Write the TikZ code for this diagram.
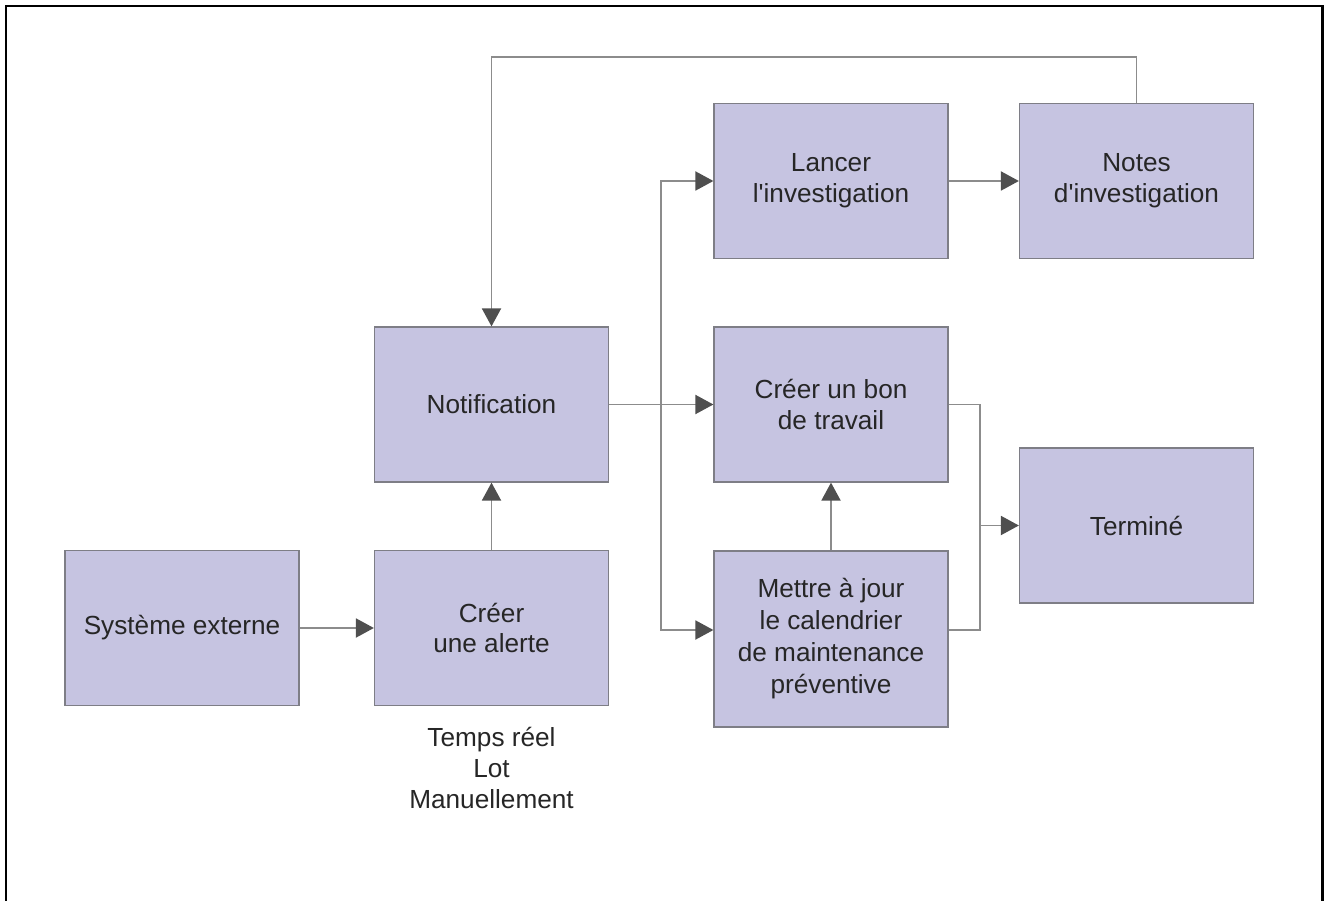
\documentclass[tikz,border=0pt]{standalone}
\usepackage{fontspec}
\setmainfont{Liberation Sans}[Ligatures=TeXOff]
\usetikzlibrary{positioning,arrows.meta,calc}

\definecolor{boxfill}{HTML}{C6C4E1}
\definecolor{boxline}{HTML}{7E7E86}
\definecolor{wire}{HTML}{8C8C8C}
\definecolor{tipgrey}{HTML}{4F4F4F}

\begin{document}
\begin{tikzpicture}[on grid, node distance=6.2cm,
	box/.style={draw=boxline, fill=boxfill, line width=0.7pt, minimum width=4.68cm, minimum height=3.1cm, align=center, text=black!85, font=\fontsize{14.9}{17.6}\selectfont},
	wire/.style={draw=wire, line width=1.1pt},
	arr/.style={wire, -{Triangle[length=3.6mm, width=3.8mm, color=tipgrey]}}]
	\useasboundingbox (0,0) rectangle (26.56,-18.02);
	\draw[line width=1.2pt] (0.12,-18.02) |- (26.45,-0.12) -- (26.45,-18.02);

	\node[box] (ext) at (3.64,-12.56) {Système externe};
	\node[box] (alerte) [right=6.19cm of ext] {Créer\\une alerte};
	\node[box] (notif) [above=4.47cm of alerte] {Notification};
	\node[box] (bon) [right=6.79cm of notif] {Créer un bon\\de travail};
	\node[box] (lancer) [above=4.47cm of bon] {Lancer\\l'investigation};
	\node[box] (notes) [right=6.11cm of lancer] {Notes\\d'investigation};
	\node[box, minimum height=3.52cm, font=\fontsize{14.9}{18.2}\selectfont] (mettre) [below=4.69cm of bon] {Mettre à jour\\le calendrier\\de maintenance\\préventive};
	\node[box] (termine) [below right=2.42cm and 6.11cm of bon] {Terminé};
	\node[align=center, text=black!85, font=\fontsize{14.9}{17.4}\selectfont] (modes) [below=2.8cm of alerte] {Temps réel\\Lot\\Manuellement};

	\coordinate (split) at ($(notif.east)!0.5!(bon.west)$);
	\coordinate (join) at ([xshift=-0.78cm]termine.west);

	\draw[arr] (ext) -- (alerte);
	\draw[arr] (alerte) -- (notif);
	\draw[arr] (notif) -- (bon);
	\draw[arr] (split) |- (lancer.west);
	\draw[arr] (split) |- ([yshift=0.18cm]mettre.west);
	\draw[arr] (lancer) -- (notes);
	\draw[arr] (notes.north) -- ++(0,0.92) -| (notif.north);
	\draw[arr] (mettre) -- (bon);
	\draw[wire] (bon.east) -| (join) |- ([yshift=0.18cm]mettre.east);
	\draw[arr] (join) -- (termine);
\end{tikzpicture}
\end{document}
